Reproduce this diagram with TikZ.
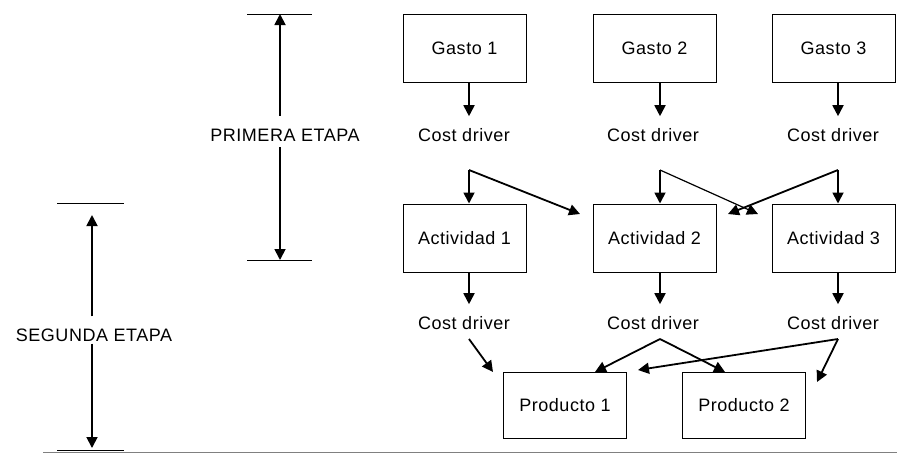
\documentclass[tikz,border=0pt]{standalone}
\usepackage{fontspec}
\setmainfont{Liberation Sans}[LetterSpace=3]
\usetikzlibrary{arrows.meta}

\begin{document}
\begin{tikzpicture}[x=1pt, y=-1pt,
  font=\fontsize{18}{20}\selectfont,
  caja/.style={rectangle, draw, line width=1pt, minimum width=123pt, minimum height=68pt, inner sep=0pt},
  etiqueta/.style={inner sep=2pt},
  flecha/.style={line width=1.8pt, -{Triangle[length=11pt,width=11pt]}},
  fina/.style={line width=1.2pt, -{Triangle[length=11pt,width=11pt]}},
  marca/.style={line width=1pt}]
  \useasboundingbox (0,0) rectangle (897,453);
  % etapas
  \node[etiqueta] (pe) at (285,135) {PRIMERA ETAPA};
  \node[etiqueta] (se) at (94,335) {SEGUNDA ETAPA};
  \coordinate (pa) at (280,14);
  \coordinate (pb) at (280,260);
  \coordinate (sa) at (92,203);
  \coordinate (sb) at (92,450);
  \draw[marca] ([xshift=-33pt]pa) -- ([xshift=32pt]pa);
  \draw[marca] ([xshift=-33pt]pb) -- ([xshift=32pt]pb);
  \draw[marca] ([xshift=-35pt]sa) -- ([xshift=32pt]sa);
  \draw[marca] ([xshift=-35pt]sb) -- ([xshift=32pt]sb);
  \draw[flecha, shorten <=11pt] (pe.north -| pa) -- (pa);
  \draw[flecha, shorten <=4pt] (pe.south -| pb) -- (pb);
  \draw[flecha, shorten <=10pt, shorten >=12pt] (se.north -| sa) -- (sa);
  \draw[flecha, shorten >=2pt] (se.south -| sb) -- (sb);
  \draw[gray, line width=1pt] (43,452) -- (897,452);
  % gastos
  \node[caja] (g1) at (464.5,48) {Gasto 1};
  \node[caja] (g2) at (654.5,48) {Gasto 2};
  \node[caja] (g3) at (833.5,48) {Gasto 3};
  \node[etiqueta] (cd1) at (464,135) {Cost driver};
  \node[etiqueta] (cd2) at (653,135) {Cost driver};
  \node[etiqueta] (cd3) at (833,135) {Cost driver};
  % actividades
  \node[caja] (a1) at (464.5,238) {Actividad 1};
  \node[caja] (a2) at (654.5,238) {Actividad 2};
  \node[caja] (a3) at (833.5,238) {Actividad 3};
  \node[etiqueta] (cd4) at (464,323) {Cost driver};
  \node[etiqueta] (cd5) at (653,323) {Cost driver};
  \node[etiqueta] (cd6) at (833,323) {Cost driver};
  % productos
  \node[caja, minimum height=66pt] (p1) at (565,405) {Producto 1};
  \node[caja, minimum height=66pt] (p2) at (744,405) {Producto 2};
  % puntos de reparto
  \coordinate (k1) at (469,170);
  \coordinate (k2) at (660,170);
  \coordinate (k3) at (838,170);
  \coordinate (m1) at (469,339);
  \coordinate (m2) at (660,339);
  \coordinate (m3) at (838,339);
  \coordinate (t1) at (580,214);
  \coordinate (t2) at (758,214);
  \coordinate (t3) at (728,214);
  \coordinate (t4) at (493,372);
  \coordinate (t5) at (595,372);
  \coordinate (t6) at (725,372);
  \coordinate (t7) at (638,370);
  \coordinate (t8) at (817,382);
  % primera etapa
  \draw[flecha, shorten >=10pt] (g1.south -| k1) -- (cd1.north -| k1);
  \draw[flecha, shorten >=10pt] (g2.south -| k2) -- (cd2.north -| k2);
  \draw[flecha, shorten >=10pt] (g3.south -| k3) -- (cd3.north -| k3);
  \draw[flecha] (k1) -- (a1.north -| k1);
  \draw[flecha] (k1) -- (t1);
  \draw[flecha] (k2) -- (a2.north -| k2);
  \draw[fina] (k2) -- (t2);
  \draw[flecha] (k3) -- (a3.north -| k3);
  \draw[flecha] (k3) -- (t3);
  % segunda etapa
  \draw[flecha, shorten >=10pt] (a1.south -| m1) -- (cd4.north -| m1);
  \draw[flecha, shorten >=10pt] (a2.south -| m2) -- (cd5.north -| m2);
  \draw[flecha, shorten >=10pt] (a3.south -| m3) -- (cd6.north -| m3);
  \draw[flecha] (m1) -- (t4);
  \draw[flecha] (m2) -- (t5);
  \draw[flecha] (m2) -- (t6);
  \draw[flecha] (m3) -- (t7);
  \draw[flecha] (m3) -- (t8);
\end{tikzpicture}
\end{document}
